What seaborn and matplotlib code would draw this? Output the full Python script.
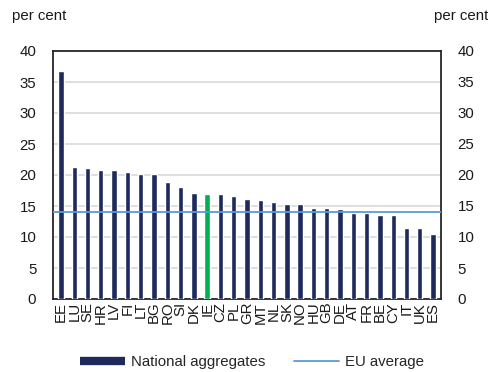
import matplotlib
matplotlib.use("Agg")
import matplotlib.pyplot as plt
import seaborn as sns
import pandas as pd
from matplotlib.lines import Line2D

countries = ["EE", "LU", "SE", "HR", "LV", "FI", "LT", "BG", "RO", "SI", "DK", "IE",
             "CZ", "PL", "GR", "MT", "NL", "SK", "NO", "HU", "GB", "DE", "AT", "FR",
             "BE", "CY", "IT", "UK", "ES"]
values = [36.8, 21.3, 21.1, 20.8, 20.8, 20.5, 20.2, 20.2, 18.9, 18.0, 17.1, 16.9,
          16.9, 16.6, 16.2, 16.0, 15.6, 15.3, 15.3, 14.7, 14.7, 14.5, 13.9, 13.9,
          13.5, 13.5, 11.4, 11.4, 10.5]
eu_average = 14.0
highlight = "IE"

navy = "#1F2A5C"
green = "#00B050"
blue = "#5B9BD5"

df = pd.DataFrame({"country": countries, "value": values})
df["group"] = ["hl" if c == highlight else "base" for c in countries]

sns.set_style("white")
plt.rcParams["font.family"] = ["Liberation Sans", "DejaVu Sans"]
fs = 10.8

fig = plt.figure(figsize=(4.89, 3.72), dpi=100)
ax = fig.add_axes([53 / 489, 1 - 299 / 372, 388 / 489, 248 / 372])

sns.barplot(data=df, x="country", y="value", hue="group",
            palette={"base": navy, "hl": green}, width=0.4,
            legend=False, ax=ax, saturation=1, zorder=3)
ax.axhline(eu_average, color=blue, lw=1.3, zorder=4)

ax.set_ylim(0, 40)
ax.set_xlim(-0.6, len(countries) - 0.4)
ax.set_yticks(range(0, 45, 5))
ax.yaxis.grid(True, color="#D9D9D9", lw=1.2, zorder=0)
ax.set_axisbelow(True)
ax.set_xlabel("")
ax.set_ylabel("")
ax.tick_params(axis="both", length=0, labelsize=fs, colors="#1a1a1a")
ax.tick_params(axis="x", pad=2)
ax.tick_params(axis="y", pad=12)
plt.setp(ax.get_xticklabels(), rotation=90)
for s in ax.spines.values():
    s.set_visible(True)
    s.set_color("#262626")
    s.set_linewidth(1.3)

ax2 = ax.twinx()
ax2.set_ylim(0, 40)
ax2.set_yticks(range(0, 45, 5))
ax2.tick_params(axis="y", length=0, labelsize=fs, colors="#1a1a1a", pad=12)
for s in ax2.spines.values():
    s.set_visible(False)

fig.text(12 / 489, 1 - 16 / 372, "per cent", fontsize=fs, va="center", ha="left", color="#1a1a1a")
fig.text(488 / 489, 1 - 16 / 372, "per cent", fontsize=fs, va="center", ha="right", color="#1a1a1a")

handles = [Line2D([0], [0], color=navy, lw=6, solid_capstyle="butt"),
           Line2D([0], [0], color=blue, lw=1.3)]
fig.legend(handles, ["National aggregates", "EU average"], loc="center",
           bbox_to_anchor=(252 / 489, 1 - 362 / 372), ncol=2, frameon=False,
           fontsize=fs, handlelength=3.0, columnspacing=1.9, handletextpad=0.4)

fig.savefig("out.png", dpi=100)
